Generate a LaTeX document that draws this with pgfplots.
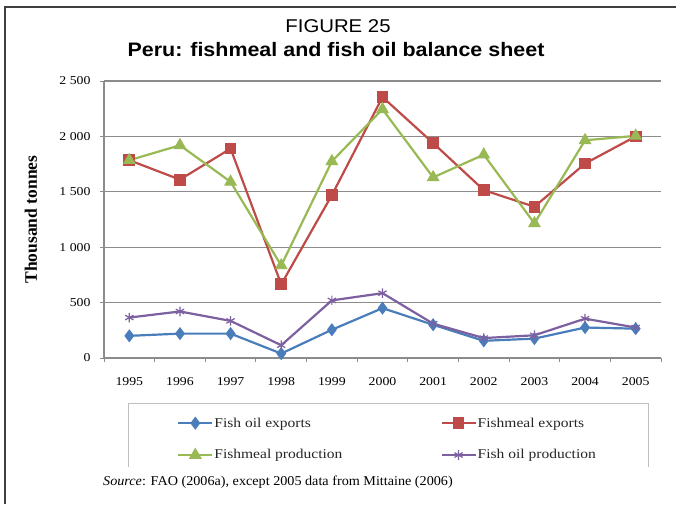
\documentclass[border=0pt]{standalone}
\usepackage{fontspec}
\setmainfont{Liberation Serif}[FakeStretch=1.15]
\newfontfamily\labelfont{Liberation Serif}
\newfontfamily\sourcefont{Liberation Serif}[FakeStretch=1.05]
\newfontfamily\titlefont{Liberation Sans}[FakeStretch=1.1]
\usepackage{pgfplots}
\pgfplotsset{compat=1.18}
\definecolor{cblue}{HTML}{4A7EBB}
\definecolor{cred}{HTML}{BE4B48}
\definecolor{cgreen}{HTML}{98B954}
\definecolor{cpurple}{HTML}{7D60A0}
\definecolor{gridc}{HTML}{8C8C8C}
\begin{document}
\begin{tikzpicture}[x=1pt,y=1pt]
\useasboundingbox (0,0) rectangle (676,504);
\draw[line width=1.5pt, black!75] (5,0) -- (5,497) -- (676,497);
\node[font=\titlefont\fontsize{18.5}{20}\selectfont, anchor=base, inner sep=0pt] at (338,471.3) {FIGURE 25};
\node[font=\titlefont\bfseries\fontsize{19.5}{22}\selectfont, anchor=base, inner sep=0pt] at (336,447.3) {Peru: fishmeal and fish oil balance sheet};
\node[font=\sourcefont\fontsize{13.5}{15}\selectfont, anchor=base west, inner sep=0pt] at (103,19) {\textit{Source}: FAO (2006a), except 2005 data from Mittaine (2006)};
\draw[gray!50, line width=0.8pt] (128,37) -- (128,101) -- (648,101) -- (648,37);
\begin{axis}[
  at={(104pt,146pt)}, anchor=south west, scale only axis,
  width=557pt, height=277pt,
  xmin=-0.5, xmax=10.5, ymin=0, ymax=2500,
  xtick={0,1,2,3,4,5,6,7,8,9,10},
  xticklabels={1995,1996,1997,1998,1999,2000,2001,2002,2003,2004,2005},
  minor xtick={-0.5,0.5,1.5,2.5,3.5,4.5,5.5,6.5,7.5,8.5,9.5,10.5},
  major x tick style={draw=none},
  minor x tick style={gridc, line width=1pt},
  minor tick length=4pt,
  ytick={0,500,1000,1500,2000,2500},
  y tick style={gridc, line width=1pt},
  major tick length=4pt,
  tick align=outside,
  axis x line*=bottom, axis y line*=left,
  axis line style={-, gridc, line width=1.2pt},
  ymajorgrids, grid style={gridc, line width=1.2pt},
  /pgf/number format/assume math mode=true,
  /pgf/number format/1000 sep={\ },
  ticklabel style={font=\fontsize{12}{14}\selectfont},
  xticklabel style={yshift=-12pt},
  yticklabel style={xshift=-6pt},
  ylabel={Thousand tonnes},
  every axis y label/.style={at={(axis description cs:0,0.5)}, rotate=90, anchor=center, yshift=73pt,
    font=\labelfont\bfseries\fontsize{17.5}{19}\selectfont},
  clip=false,
  legend columns=2,
  legend style={at={(0.0431,-0.1625)}, anchor=north west, draw=none, fill=none,
    font=\fontsize{13.5}{15}\selectfont, inner xsep=49pt, inner ysep=13.5pt,
    row sep=19pt,
    /tikz/every even column/.append style={column sep=97pt},
    nodes={inner xsep=1pt, inner ysep=1pt, text=black!85}},
  legend cell align=left,
  legend image code/.code={\draw[mark repeat=2,mark phase=2,#1] plot coordinates {(0pt,0pt) (17pt,0pt) (34pt,0pt)};},
]
\addplot[cblue, line width=2.2pt, mark=diamond*, mark size=4.8pt, mark options={solid}] coordinates {
(0,200) (1,220) (2,220) (3,40) (4,255) (5,450) (6,300) (7,155) (8,175) (9,275) (10,265)};
\addlegendentry{Fish oil exports}
\addplot[cred, line width=2.2pt, mark=square*, mark size=4.8pt, mark options={solid}] coordinates {
(0,1785) (1,1610) (2,1890) (3,665) (4,1470) (5,2355) (6,1940) (7,1515) (8,1365) (9,1755) (10,2000)};
\addlegendentry{Fishmeal exports}
\addplot[cgreen, line width=2.2pt, mark=triangle*, mark size=5.3pt, mark options={solid}] coordinates {
(0,1785) (1,1920) (2,1590) (3,835) (4,1775) (5,2245) (6,1630) (7,1835) (8,1215) (9,1965) (10,2005)};
\addlegendentry{Fishmeal production}
\addplot[cpurple, line width=2.2pt, mark=asterisk, mark size=4.8pt, mark options={solid, line width=1.2pt}] coordinates {
(0,365) (1,420) (2,335) (3,115) (4,520) (5,585) (6,310) (7,180) (8,205) (9,355) (10,275)};
\addlegendentry{Fish oil production}
\end{axis}
\end{tikzpicture}
\end{document}
